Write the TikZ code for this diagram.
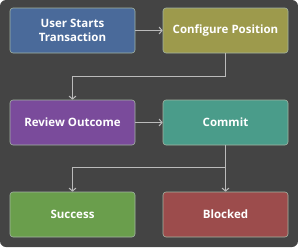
\documentclass[tikz,border=0pt]{standalone}
\usepackage{fontspec}
\setmainfont{Open Sans}
\usetikzlibrary{arrows.meta,positioning}
\definecolor{bgdark}{HTML}{444444}
\definecolor{edgegray}{HTML}{BBBBBB}
\definecolor{rimgreen}{HTML}{A3B5A3}
\definecolor{stepblue}{HTML}{4A6A9A}
\definecolor{stepolive}{HTML}{9D9A4C}
\definecolor{steppurple}{HTML}{7A4B9B}
\definecolor{stepteal}{HTML}{4A9C8A}
\definecolor{stepgreen}{HTML}{6A9E4C}
\definecolor{stepred}{HTML}{9C4C4C}
\tikzset{
  stepbox/.style={
    draw=rimgreen, line width=0.6pt, rounded corners=3pt,
    text=white, align=center, font=\fontsize{11.5}{14.5}\selectfont\bfseries,
    minimum width=125pt, minimum height=45pt, inner sep=2pt},
  steparrow/.style={
    -{Straight Barb[length=3pt,width=7pt]}, line width=1pt, color=edgegray},
}

\begin{document}
\begin{tikzpicture}[x=1pt, y=-1pt]
  \useasboundingbox (0,0) rectangle (298,247);
  \fill[bgdark, rounded corners=6pt] (0,0) rectangle (298,247);
  \node[stepbox, fill=stepblue]   (start)  at (72.5,30.5)  {User Starts\\Transaction};
  \node[stepbox, fill=stepolive]  (config) at (225.5,30.5) {Configure Position};
  \node[stepbox, fill=steppurple] (review) at (72.5,122.5) {Review Outcome};
  \node[stepbox, fill=stepteal]   (commit) at (225.5,122.5) {Commit};
  \node[stepbox, fill=stepgreen]  (ok)     at (72.5,214.5) {Success};
  \node[stepbox, fill=stepred]    (block)  at (225.5,214.5) {Blocked};
  \draw[steparrow] (start) -- (config);
  \draw[steparrow] (config.south) -- ++(0,23) -| (review.north);
  \draw[steparrow] (review) -- (commit);
  \draw[steparrow] (commit) -- (block);
  \draw[steparrow] (commit.south) -- ++(0,22) -| (ok.north);
\end{tikzpicture}
\end{document}
